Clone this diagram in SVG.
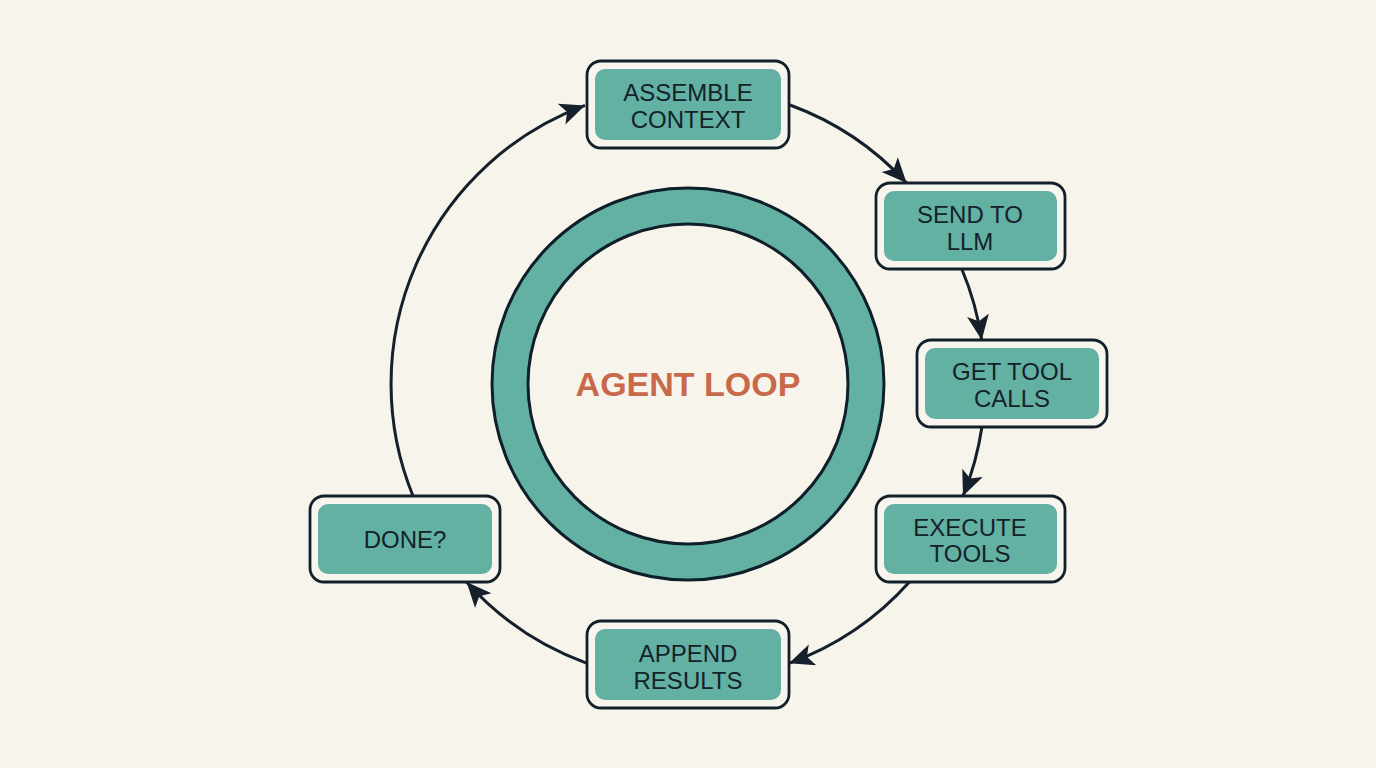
<svg xmlns="http://www.w3.org/2000/svg" width="1376" height="768" viewBox="0 0 1376 768">
<defs>
<style>
.outer{fill:#f8f5ee;stroke:#13202a;stroke-width:2.8}
.inner{fill:#63b1a3}
.lbl{font-family:"Liberation Sans",Arial,sans-serif;font-size:24px;fill:#13222b;text-anchor:middle}
.conn{fill:none;stroke:#15202b;stroke-width:3}
</style>
<marker id="ah" markerUnits="userSpaceOnUse" markerWidth="28" markerHeight="24" refX="25" refY="11" orient="auto">
<path d="M0,0 L25,11 L0,22 L6,11 Z" fill="#15202b"/>
</marker>
</defs>
<rect width="1376" height="768" fill="#f7f4ec"/>
<g id="connectors">
<path class="conn" marker-end="url(#ah)" d="M 413 496 A 297 297 0 0 1 585 105.4"/>
<path class="conn" marker-end="url(#ah)" d="M 790 105 A 297 297 0 0 1 906.6 183"/>
<path class="conn" marker-end="url(#ah)" d="M 961.8 269 A 297 297 0 0 1 981.7 340"/>
<path class="conn" marker-end="url(#ah)" d="M 981.9 427 A 297 297 0 0 1 963 496"/>
<path class="conn" marker-end="url(#ah)" d="M 909.4 582 A 297 297 0 0 1 789 663.3"/>
<path class="conn" marker-end="url(#ah)" d="M 587 663.3 A 297 297 0 0 1 466.6 582"/>
</g>
<g id="center">
<circle cx="688" cy="384" r="178" fill="none" stroke="#63b1a3" stroke-width="36"/>
<circle cx="688" cy="384" r="196" fill="none" stroke="#0f1f2a" stroke-width="3"/>
<circle cx="688" cy="384" r="160" fill="none" stroke="#0f1f2a" stroke-width="3"/>
<text x="688" y="396" font-family="Liberation Sans,Arial,sans-serif" font-size="34" font-weight="bold" fill="#c8694a" text-anchor="middle">AGENT LOOP</text>
</g>
<g id="assemble">
<rect class="outer" x="587" y="61" width="202" height="87" rx="14"/>
<rect class="inner" x="595" y="69" width="186" height="71" rx="10"/>
<text class="lbl" x="688" y="101">ASSEMBLE</text>
<text class="lbl" x="688" y="128">CONTEXT</text>
</g>
<g id="send">
<rect class="outer" x="876" y="183" width="189" height="86" rx="14"/>
<rect class="inner" x="884" y="191" width="173" height="70" rx="10"/>
<text class="lbl" x="970" y="223">SEND TO</text>
<text class="lbl" x="970" y="250">LLM</text>
</g>
<g id="gettool">
<rect class="outer" x="917" y="340" width="190" height="87" rx="14"/>
<rect class="inner" x="925" y="348" width="174" height="71" rx="10"/>
<text class="lbl" x="1012" y="380">GET TOOL</text>
<text class="lbl" x="1012" y="407">CALLS</text>
</g>
<g id="execute">
<rect class="outer" x="876" y="496" width="189" height="86" rx="14"/>
<rect class="inner" x="884" y="504" width="173" height="70" rx="10"/>
<text class="lbl" x="970" y="536">EXECUTE</text>
<text class="lbl" x="970" y="562">TOOLS</text>
</g>
<g id="append">
<rect class="outer" x="587" y="621" width="202" height="87" rx="14"/>
<rect class="inner" x="595" y="629" width="186" height="71" rx="10"/>
<text class="lbl" x="688" y="662">APPEND</text>
<text class="lbl" x="688" y="689">RESULTS</text>
</g>
<g id="done">
<rect class="outer" x="310" y="496" width="190" height="86" rx="14"/>
<rect class="inner" x="318" y="504" width="174" height="70" rx="10"/>
<text class="lbl" x="405" y="548">DONE?</text>
</g>
</svg>
